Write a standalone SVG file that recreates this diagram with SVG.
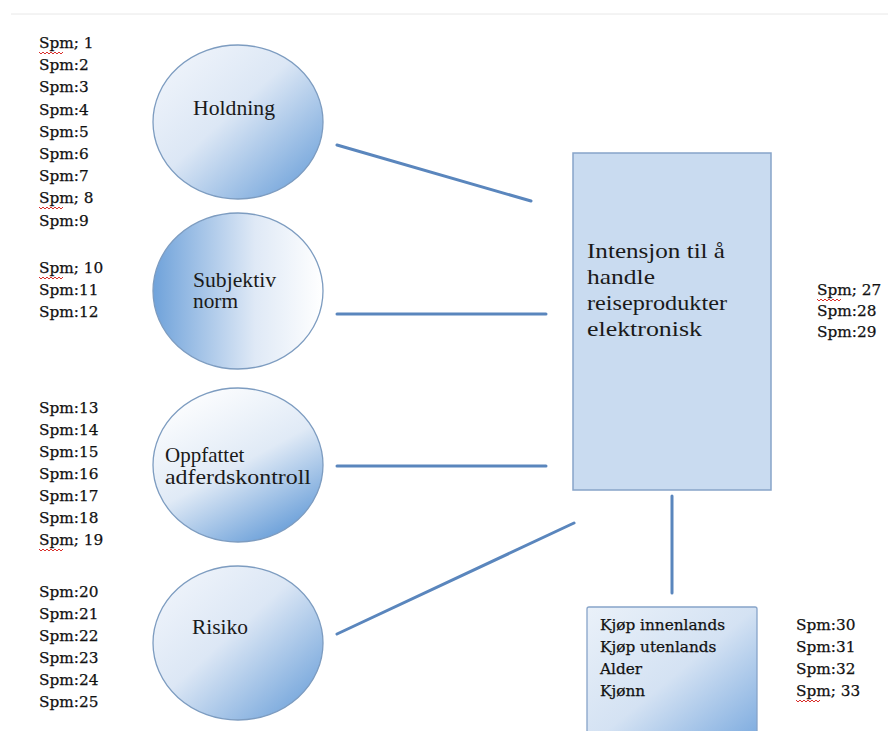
<svg xmlns="http://www.w3.org/2000/svg" width="888" height="731" viewBox="0 0 888 731">
  <defs>
    <linearGradient id="gDiag" x1="0" y1="0" x2="1" y2="1">
      <stop offset="0" stop-color="#f4f7fc"/>
      <stop offset="0.45" stop-color="#dce7f5"/>
      <stop offset="1" stop-color="#5f98d6"/>
    </linearGradient>
    <linearGradient id="gLeft" x1="0" y1="0" x2="1" y2="0">
      <stop offset="0" stop-color="#6fa2da"/>
      <stop offset="0.6" stop-color="#dfe9f6"/>
      <stop offset="1" stop-color="#ffffff"/>
    </linearGradient>
    <linearGradient id="gDown" x1="0.2" y1="0" x2="0.8" y2="1">
      <stop offset="0" stop-color="#ffffff"/>
      <stop offset="0.5" stop-color="#e0eaf6"/>
      <stop offset="1" stop-color="#5f98d6"/>
    </linearGradient>
    <linearGradient id="gBox" x1="0" y1="0" x2="1" y2="1">
      <stop offset="0" stop-color="#eaf1f9"/>
      <stop offset="0.5" stop-color="#d4e2f3"/>
      <stop offset="1" stop-color="#78a8de"/>
    </linearGradient>
  </defs>
  <style>
    .oval { stroke: #7d9cc0; stroke-width: 1.3; }
    .lbl { font-family: "Liberation Serif", "Times New Roman", serif; font-size: 20px; fill: #1a1a1a; }
    .big { font-family: "Liberation Serif", "Times New Roman", serif; font-size: 21px; fill: #1a1a1a; }
    .spm { font-family: "DejaVu Serif", "Liberation Serif", serif; font-size: 15.3px; fill: #111111; stroke: #111111; stroke-width: 0.25; }
    .conn { stroke: #5a86bd; stroke-width: 3; stroke-linecap: round; fill: none; }
    .squig { stroke: #d9302c; stroke-width: 1; fill: none; }
  </style>

  <rect width="888" height="731" fill="#ffffff"/>
  <line x1="11" y1="14" x2="888" y2="14" stroke="#e8e8e8" stroke-width="1"/>

  <!-- question number lists -->
  <g id="spm-holdning" class="spm">
    <text x="39" y="48">Spm; 1</text>
    <text x="39" y="70">Spm:2</text>
    <text x="39" y="92">Spm:3</text>
    <text x="39" y="115">Spm:4</text>
    <text x="39" y="137">Spm:5</text>
    <text x="39" y="159">Spm:6</text>
    <text x="39" y="181">Spm:7</text>
    <text x="39" y="203">Spm; 8</text>
    <text x="39" y="226">Spm:9</text>
  </g>
  <g id="spm-norm" class="spm">
    <text x="39" y="273">Spm; 10</text>
    <text x="39" y="295">Spm:11</text>
    <text x="39" y="317">Spm:12</text>
  </g>
  <g id="spm-kontroll" class="spm">
    <text x="39" y="413">Spm:13</text>
    <text x="39" y="435">Spm:14</text>
    <text x="39" y="457">Spm:15</text>
    <text x="39" y="479">Spm:16</text>
    <text x="39" y="501">Spm:17</text>
    <text x="39" y="523">Spm:18</text>
    <text x="39" y="545">Spm; 19</text>
  </g>
  <g id="spm-risiko" class="spm">
    <text x="39" y="597">Spm:20</text>
    <text x="39" y="619">Spm:21</text>
    <text x="39" y="641">Spm:22</text>
    <text x="39" y="663">Spm:23</text>
    <text x="39" y="685">Spm:24</text>
    <text x="39" y="707">Spm:25</text>
  </g>
  <g id="spm-intensjon" class="spm">
    <text x="817" y="295">Spm; 27</text>
    <text x="817" y="316">Spm:28</text>
    <text x="817" y="337">Spm:29</text>
  </g>
  <g id="spm-bakgrunn" class="spm">
    <text x="796" y="630">Spm:30</text>
    <text x="796" y="652">Spm:31</text>
    <text x="796" y="674">Spm:32</text>
    <text x="796" y="696">Spm; 33</text>
  </g>

  <!-- spell-check squiggles -->
  <g id="squiggles" class="squig">
    <path d="M39 52 l2 2 l2 -2 l2 2 l2 -2 l2 2 l2 -2 l2 2 l2 -2 l2 2 l2 -2 l2 2 l2 -2"/>
    <path d="M39 207 l2 2 l2 -2 l2 2 l2 -2 l2 2 l2 -2 l2 2 l2 -2 l2 2 l2 -2 l2 2 l2 -2"/>
    <path d="M39 277 l2 2 l2 -2 l2 2 l2 -2 l2 2 l2 -2 l2 2 l2 -2 l2 2 l2 -2 l2 2 l2 -2"/>
    <path d="M39 549 l2 2 l2 -2 l2 2 l2 -2 l2 2 l2 -2 l2 2 l2 -2 l2 2 l2 -2 l2 2 l2 -2"/>
    <path d="M817 299 l2 2 l2 -2 l2 2 l2 -2 l2 2 l2 -2 l2 2 l2 -2 l2 2 l2 -2 l2 2 l2 -2"/>
    <path d="M796 700 l2 2 l2 -2 l2 2 l2 -2 l2 2 l2 -2 l2 2 l2 -2 l2 2 l2 -2 l2 2 l2 -2"/>
  </g>

  <!-- connectors -->
  <g id="connectors" class="conn">
    <line x1="337" y1="145" x2="531" y2="201"/>
    <line x1="337" y1="314" x2="546" y2="314"/>
    <line x1="337" y1="466" x2="546" y2="466"/>
    <line x1="337" y1="634" x2="574" y2="523"/>
    <line x1="672" y1="496" x2="672" y2="593"/>
  </g>

  <!-- construct nodes -->
  <g id="holdning">
    <ellipse class="oval" cx="238" cy="122" rx="85" ry="77" fill="url(#gDiag)"/>
    <text class="lbl" x="193" y="115" textLength="82" lengthAdjust="spacingAndGlyphs">Holdning</text>
  </g>
  <g id="subjektiv-norm">
    <ellipse class="oval" cx="238" cy="291" rx="85" ry="78" fill="url(#gLeft)"/>
    <text class="lbl" x="193" y="287" textLength="83" lengthAdjust="spacingAndGlyphs">Subjektiv</text>
    <text class="lbl" x="193" y="308" textLength="45" lengthAdjust="spacingAndGlyphs">norm</text>
  </g>
  <g id="oppfattet-kontroll">
    <ellipse class="oval" cx="238" cy="465" rx="85" ry="77" fill="url(#gDown)"/>
    <text class="big" x="165" y="462">Oppfattet</text>
    <text class="big" x="165" y="484" textLength="146" lengthAdjust="spacingAndGlyphs">adferdskontroll</text>
  </g>
  <g id="risiko">
    <ellipse class="oval" cx="238" cy="643" rx="85" ry="77" fill="url(#gDiag)"/>
    <text class="lbl" x="192" y="634" textLength="56" lengthAdjust="spacingAndGlyphs">Risiko</text>
  </g>

  <g id="intensjon">
    <rect x="573" y="153" width="198" height="337" fill="#c9dbf0" stroke="#87a4c9" stroke-width="1.5"/>
    <text class="big" x="587" y="258" textLength="138" lengthAdjust="spacingAndGlyphs">Intensjon til å</text>
    <text class="big" x="587" y="284" textLength="68" lengthAdjust="spacingAndGlyphs">handle</text>
    <text class="big" x="587" y="310" textLength="140" lengthAdjust="spacingAndGlyphs">reiseprodukter</text>
    <text class="big" x="587" y="336" textLength="115" lengthAdjust="spacingAndGlyphs">elektronisk</text>
  </g>

  <g id="bakgrunn">
    <rect x="587" y="607" width="170" height="140" rx="2" fill="url(#gBox)" stroke="#87a4c9" stroke-width="1.3"/>
    <g class="spm">
      <text x="600" y="630">Kjøp innenlands</text>
      <text x="600" y="652">Kjøp utenlands</text>
      <text x="600" y="674">Alder</text>
      <text x="600" y="696">Kjønn</text>
    </g>
  </g>
</svg>
